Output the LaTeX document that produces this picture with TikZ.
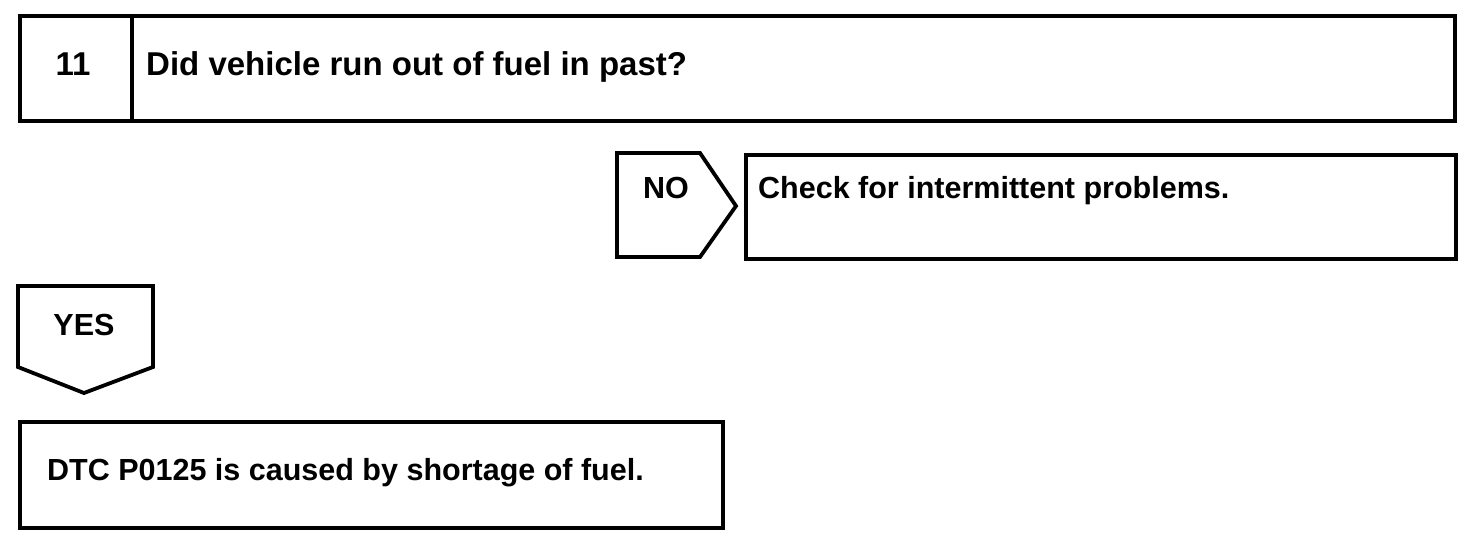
\documentclass[tikz,border=0pt]{standalone}
\usepackage{fontspec}
\setmainfont{Liberation Sans}
\begin{document}
\begin{tikzpicture}[x=1pt,y=-1pt,
  outline/.style={draw=black,line width=3.8pt,line join=miter},
  boxnode/.style={outline,rectangle,inner sep=0pt,anchor=north west},
  txt/.style={anchor=base west,inner sep=0pt,font=\bfseries\fontsize{30.5}{34}\selectfont},
  bigtxt/.style={anchor=base west,inner sep=0pt,font=\bfseries\fontsize{33}{37}\selectfont},
  lbl/.style={anchor=base,inner sep=0pt,font=\bfseries\fontsize{30.5}{34}\selectfont}]
\useasboundingbox (0,0) rectangle (1472,546);
% top question box
\node[boxnode,minimum width=1435pt,minimum height=105pt] (q) at (18,14) {};
\coordinate (dtop) at (132,14);
\coordinate (dbot) at (132,119);
\draw[outline] (dtop) -- (dbot);
\node[lbl,font=\bfseries\fontsize{33}{37}\selectfont] (num) at (73,75) {11};
\node[bigtxt] (qtxt) at (146,75) {Did vehicle run out of fuel in past?};
% NO tag
\draw[outline] (617,153) -- (700,153) -- (736,206) -- (700,257) -- (617,257) -- cycle;
\node[lbl] (no) at (666,198) {NO};
% NO result box
\node[boxnode,minimum width=710pt,minimum height=104pt] (nobox) at (744,153) {};
\node[txt] (notxt) at (758,198) {Check for intermittent problems.};
% YES tag
\draw[outline] (18,286) -- (153,286) -- (153,367) -- (84,393) -- (18,367) -- cycle;
\node[lbl] (yes) at (84,335) {YES};
% YES result box
\node[boxnode,minimum width=703pt,minimum height=106pt] (yesbox) at (18,420) {};
\node[txt] (yestxt) at (47,480) {DTC P0125 is caused by shortage of fuel.};
\end{tikzpicture}
\end{document}
